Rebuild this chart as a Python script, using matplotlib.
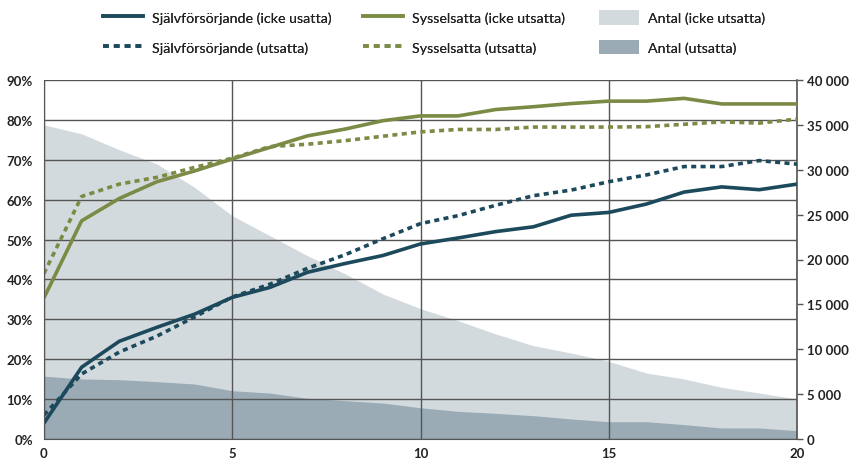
import matplotlib
matplotlib.use("Agg")
import matplotlib.pyplot as plt
from matplotlib.ticker import FuncFormatter, MultipleLocator
from matplotlib.patches import Patch
from matplotlib.lines import Line2D

years = list(range(21))
sjalv_icke = [4.0, 18.0, 24.5, 28.0, 31.3, 35.5, 38.0, 41.8, 44.0, 46.0, 48.9, 50.4, 52.0, 53.2, 56.1, 56.8, 58.9, 61.9, 63.2, 62.5, 63.9]
sjalv_utsatta = [6.0, 16.3, 21.8, 25.8, 30.6, 35.6, 38.8, 42.8, 46.2, 50.2, 54.0, 56.0, 58.6, 61.0, 62.4, 64.5, 66.2, 68.3, 68.3, 69.8, 68.9]
syss_icke = [35.4, 54.7, 60.3, 64.5, 67.2, 70.2, 73.1, 76.0, 77.7, 79.8, 81.0, 81.0, 82.6, 83.3, 84.1, 84.7, 84.7, 85.4, 84.0, 84.0, 84.0]
syss_utsatta = [41.5, 60.8, 63.9, 65.6, 68.1, 70.4, 73.3, 73.9, 74.8, 75.9, 77.0, 77.6, 77.6, 78.2, 78.2, 78.2, 78.3, 78.9, 79.5, 79.2, 80.2]
antal_icke = [35000, 34000, 32230, 30640, 28040, 24880, 22650, 20420, 18400, 16160, 14520, 13180, 11700, 10400, 9580, 8650, 7350, 6690, 5760, 5120, 4460]
antal_utsatta = [7000, 6690, 6610, 6390, 6130, 5380, 5120, 4530, 4270, 4010, 3480, 3080, 2860, 2600, 2230, 1930, 1930, 1600, 1230, 1230, 930]

labels = ["Självförsörjande (icke usatta)", "Sysselsatta (icke utsatta)", "Antal (icke utsatta)",
          "Självförsörjande (utsatta)", "Sysselsatta (utsatta)", "Antal (utsatta)"]

BLUE = "#1c4a5c"
OLIVE = "#7b8b45"
LIGHT = "#d3dadd"
DARK = "#9aabb5"
GRID = "#555555"

plt.rcParams['font.family'] = ['Lato', 'DejaVu Sans']

fig = plt.figure(figsize=(8.57, 4.64), dpi=100)
ax = fig.add_axes([44/857, 24/464, (797-44)/857, (440-81)/464])
ax2 = ax.twinx()

ax2.fill_between(years, antal_icke, 0, color=LIGHT, linewidth=0)
ax2.fill_between(years, antal_utsatta, 0, color=DARK, linewidth=0)
ax2.set_ylim(0, 40000)
ax2.yaxis.set_major_locator(MultipleLocator(5000))
ax2.yaxis.set_major_formatter(FuncFormatter(lambda v, p: f"{int(v):,}".replace(",", " ")))

ax.set_zorder(ax2.get_zorder() + 1)
ax.patch.set_visible(False)

lw = 2.6
DOT = (0, (1.4, 1.2))
ax.plot(years, sjalv_icke, color=BLUE, lw=lw, solid_capstyle='butt', solid_joinstyle='round')
ax.plot(years, sjalv_utsatta, color=BLUE, lw=lw, linestyle=DOT, dash_capstyle='butt')
ax.plot(years, syss_icke, color=OLIVE, lw=lw, solid_capstyle='butt', solid_joinstyle='round')
ax.plot(years, syss_utsatta, color=OLIVE, lw=lw, linestyle=DOT, dash_capstyle='butt')

ax.set_xlim(0, 20)
ax.set_ylim(0, 90)
ax.xaxis.set_major_locator(MultipleLocator(5))
ax.yaxis.set_major_locator(MultipleLocator(10))
ax.yaxis.set_major_formatter(FuncFormatter(lambda v, p: f"{int(v)}%"))
ax.grid(True, color=GRID, linewidth=1.0)

for a in (ax, ax2):
    for s in a.spines.values():
        s.set_visible(False)
ax.spines['left'].set_visible(True)
ax.spines['left'].set_color(GRID)
ax.spines['bottom'].set_visible(True)
ax.spines['bottom'].set_color(GRID)
ax2.spines['right'].set_visible(True)
ax2.spines['right'].set_color(GRID)
ax2.spines['right'].set_linewidth(1.2)

ax.tick_params(axis='both', length=0, labelsize=9.5, colors='#222222')
ax.tick_params(axis='y', pad=8)
ax.tick_params(axis='x', pad=6)
ax2.tick_params(axis='y', length=4, width=1, color=GRID, direction='out', labelsize=9.5, colors='#222222', pad=3)
for lab in ax.get_xticklabels() + ax.get_yticklabels() + ax2.get_yticklabels():
    lab.set_fontweight('bold')
    lab.set_color('#222222')

handles = [
    Line2D([], [], color=BLUE, lw=lw),
    Line2D([], [], color=OLIVE, lw=lw),
    Patch(facecolor=LIGHT, edgecolor='none'),
    Line2D([], [], color=BLUE, lw=lw, linestyle=(0, (1.6, 1.4))),
    Line2D([], [], color=OLIVE, lw=lw, linestyle=(0, (1.6, 1.4))),
    Patch(facecolor=DARK, edgecolor='none'),
]
col_x = [103, 363, 599]
for c in range(3):
    leg = fig.legend([handles[c], handles[c + 3]], [labels[c], labels[c + 3]], ncol=1,
                     loc='upper left', bbox_to_anchor=(col_x[c]/857, 1 - 11/464),
                     frameon=False, fontsize=10.3, handlelength=2.8, handleheight=1.2,
                     labelspacing=1.05, handletextpad=0.6, borderpad=0, borderaxespad=0,
                     labelcolor='#222222')
    fig.add_artist(leg)

fig.savefig("out.png", dpi=100)
